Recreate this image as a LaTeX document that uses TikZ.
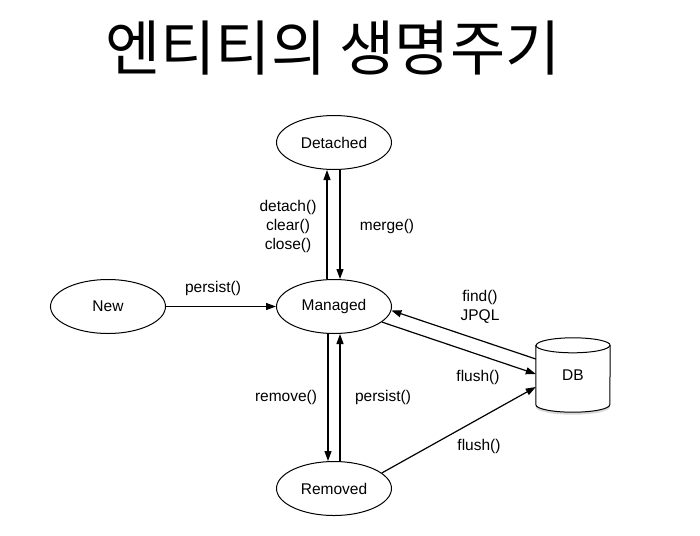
\documentclass[tikz,border=0pt]{standalone}
\usepackage{fontspec}
\setmainfont{Liberation Sans}
\newfontfamily\krfont{Noto Sans CJK KR}
\usetikzlibrary{arrows.meta, shapes.geometric, shadows}

\begin{document}
\begin{tikzpicture}[x=1pt, y=-1pt, >={Triangle[length=10pt,width=7pt]},
  state/.style={draw, ellipse, line width=1pt, inner sep=0pt,
    minimum width=115pt, minimum height=54pt, font=\fontsize{15.5}{18}\selectfont},
  arr/.style={->, line width=1.2pt},
  lbl/.style={align=center, inner sep=0pt, font=\fontsize{15.5}{19}\selectfont}]
  \useasboundingbox (0,0) rectangle (700,535);

  % 제목
  \node (title) at (333,48) {\krfont\fontsize{60}{70}\selectfont 엔티티의 생명주기};

  % --- DB (원통) ---
  \node[minimum width=74pt, minimum height=74pt, inner sep=0pt,
    font=\fontsize{15.5}{18}\selectfont] (db) at (573,375) {};
  \draw[line width=1pt, fill=white,
    drop shadow={opacity=0.3, shadow xshift=0pt, shadow yshift=-2.5pt}]
    ([yshift=-7.5pt]db.north west) -- ([yshift=7.5pt]db.south west)
    arc (180:0:37 and 7.5) -- ([yshift=-7.5pt]db.north east)
    arc (0:-180:37 and 7.5) -- cycle;
  \draw[line width=1pt] ([yshift=-7.5pt]db.north west) arc (180:0:37 and 7.5);
  \node[font=\fontsize{15.5}{18}\selectfont] at (db.center) {DB};

  % --- 상태 ---
  \node[state] (new) at (108,306.5) {New};
  \node[state] (man) at (334,306.5) {Managed};
  \node[state] (det) at (334,142.5) {Detached};
  \node[state] (rem) at (334,488.5) {Removed};

  % --- 전이 ---
  \draw[arr] (new) -- (man);
  \draw[arr] ([xshift=-7pt]man.north) -- ([xshift=-7pt]man.north |- det.south);
  \draw[arr] ([xshift=6pt]det.south) -- ([xshift=6pt]det.south |- man.north);
  \draw[arr] ([xshift=-6pt]man.south) -- ([xshift=-6pt]man.south |- rem.north);
  \draw[arr] ([xshift=6pt]rem.north) -- ([xshift=6pt]rem.north |- man.south);
  \draw[arr] ([yshift=16pt]db.west) -- (man.-4);
  \draw[arr] (man.-18) -- ([yshift=1pt]db.west);
  \draw[arr] (rem.18) -- ([yshift=-12pt]db.west);

  % 라벨
  \node[lbl] (l-persist) at (213,288) {persist()};
  \node[lbl] (l-detach) at (288,226) {detach()\\clear()\\close()};
  \node[lbl] (l-merge) at (387,226) {merge()};
  \node[lbl] (l-remove) at (286,397) {remove()};
  \node[lbl] (l-repersist) at (383,397) {persist()};
  \node[lbl] (l-find) at (480,307) {find()\\JPQL};
  \node[lbl] (l-flush) at (478,377) {flush()};
  \node[lbl] (l-flush2) at (479,446) {flush()};
\end{tikzpicture}
\end{document}
